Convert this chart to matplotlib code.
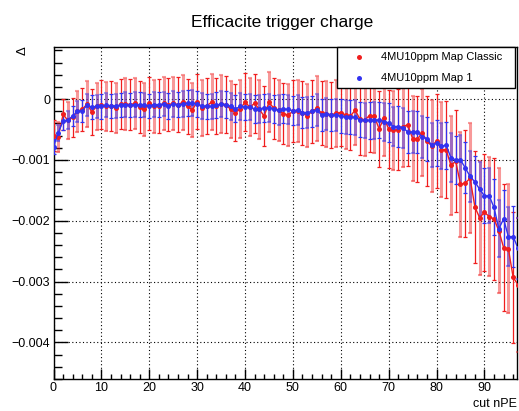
import numpy as np
import matplotlib
matplotlib.use("Agg")
import matplotlib.pyplot as plt
from matplotlib.lines import Line2D
from matplotlib.patches import Rectangle

plt.rcParams["font.family"] = ["Liberation Sans", "DejaVu Sans"]

# cut values (nPE)
cut = np.arange(0, 98)

# values, in units of 1e-4
classic = [-6.0, -6.2, -2.5, -3.5, -3.0, -2.0, -1.7, -0.8, -2.1, -1.2,
           -0.9, -1.2, -1.2, -1.4, -0.8, -0.8, -0.9, -0.7, -1.3, -1.7,
           -0.7, -1.2, -1.1, -0.7, -0.9, -0.7, -0.9, -0.5, -1.2, -1.8,
           -0.4, -1.5, -1.1, -0.5, -1.1, -0.8, -0.9, -1.7, -2.2, -1.6,
           -0.5, -1.3, -0.7, -1.7, -2.8, -0.5, -1.5, -1.8, -2.4, -2.6,
           -2.0, -1.9, -2.3, -2.7, -2.0, -1.5, -2.3, -2.4, -2.6, -2.3,
           -2.2, -2.6, -2.8, -1.8, -3.3, -3.4, -2.7, -2.8, -4.9, -3.1,
           -4.9, -5.1, -5.0, -4.5, -4.2, -6.5, -6.6, -5.5, -6.9, -7.7,
           -6.9, -8.3, -8.3, -10.9, -10.2, -14.0, -13.8, -13.0, -17.7, -19.5,
           -18.6, -19.3, -19.7, -21.6, -24.4, -24.6, -29.3, -30.5]
classic_err = [2.5, 2.5, 2.6, 3.0, 3.2, 3.4, 3.5, 3.7, 3.8, 3.9,
               4.0, 4.0, 4.1, 4.1, 4.1, 4.2, 4.2, 4.2, 4.3, 4.3,
               4.3, 4.3, 4.4, 4.4, 4.4, 4.4, 4.5, 4.5, 4.5, 4.5,
               4.5, 4.6, 4.6, 4.6, 4.6, 4.7, 4.7, 4.7, 4.7, 4.8,
               4.8, 4.8, 4.8, 4.9, 4.9, 4.9, 5.0, 5.0, 5.0, 5.1,
               5.1, 5.1, 5.2, 5.2, 5.2, 5.3, 5.3, 5.4, 5.4, 5.5,
               5.5, 5.6, 5.6, 5.7, 5.8, 5.9, 6.0, 6.1, 6.2, 6.3,
               6.4, 6.5, 6.6, 6.7, 6.8, 7.0, 7.1, 7.2, 7.4, 7.5,
               7.7, 7.8, 8.0, 8.2, 8.4, 8.6, 8.8, 9.0, 9.2, 9.4,
               9.6, 9.8, 10.0, 10.2, 10.4, 10.6, 10.8, 11.0]

map1 = [-7.8, -5.5, -3.6, -3.4, -2.8, -2.0, -1.9, -1.0, -1.3, -1.2,
        -1.2, -1.0, -1.1, -1.1, -1.0, -0.9, -1.0, -0.9, -0.9, -1.0,
        -1.1, -0.9, -0.9, -0.8, -1.1, -0.8, -0.9, -0.8, -0.65, -0.65,
        -0.8, -1.1, -1.2, -1.2, -1.0, -0.8, -0.9, -1.2, -1.6, -1.2,
        -1.3, -1.3, -1.6, -1.6, -1.5, -1.4, -1.6, -1.8, -1.6, -1.7,
        -1.9, -1.8, -2.2, -2.2, -2.0, -1.8, -2.6, -2.4, -2.6, -2.6,
        -2.8, -2.9, -2.9, -3.0, -3.4, -3.5, -3.5, -3.5, -3.4, -3.7,
        -3.9, -4.5, -4.5, -4.7, -5.4, -5.4, -5.4, -6.2, -6.5, -7.6,
        -7.2, -7.7, -7.6, -9.6, -10.0, -10.0, -11.3, -12.7, -13.6, -14.8,
        -15.9, -15.9, -17.8, -21.3, -19.7, -22.6, -22.6, -24.5]
map1_err = [1.2, 1.3, 1.4, 1.5, 1.6, 1.7, 1.8, 1.8, 1.9, 1.9,
            2.0, 2.0, 2.0, 2.0, 2.0, 2.0, 2.0, 2.0, 2.0, 2.0,
            2.0, 2.0, 2.0, 2.0, 2.1, 2.1, 2.1, 2.1, 2.1, 2.1,
            2.1, 2.1, 2.1, 2.1, 2.1, 2.2, 2.2, 2.2, 2.2, 2.2,
            2.2, 2.2, 2.3, 2.3, 2.3, 2.3, 2.3, 2.4, 2.4, 2.4,
            2.4, 2.5, 2.5, 2.5, 2.5, 2.6, 2.6, 2.6, 2.7, 2.7,
            2.8, 2.8, 2.8, 2.9, 2.9, 2.9, 3.0, 3.0, 3.0, 3.1,
            3.2, 3.2, 3.3, 3.3, 3.4, 3.4, 3.5, 3.5, 3.6, 3.6,
            3.8, 3.8, 3.9, 4.0, 4.0, 4.1, 4.2, 4.2, 4.3, 4.4,
            4.5, 4.5, 4.6, 4.7, 4.8, 4.9, 5.0, 5.0]

yticks = [-0.004, -0.003, -0.002, -0.001, 0]
ytick_labels = ["\u22120.004", "\u22120.003", "\u22120.002", "\u22120.001", "0"]
xticks = [0, 10, 20, 30, 40, 50, 60, 70, 80, 90]

series = [
    ("4MU10ppm Map Classic", np.array(classic) * 1e-4, np.array(classic_err) * 1e-4, "#f01e1e"),
    ("4MU10ppm Map 1", np.array(map1) * 1e-4, np.array(map1_err) * 1e-4, "#3232f0"),
]

W, H = 519, 411
fig = plt.figure(figsize=(W / 100, H / 100), dpi=100)
ax = fig.add_axes([53.5 / W, 1 - 379 / H, (517 - 53.5) / W, (379 - 47) / H])

for label, y, err, col in series:
    # ROOT-like look: alternate thin dark bars and soft wide bars
    ax.errorbar(cut[::2], y[::2], yerr=err[::2], fmt="none", ecolor=col,
                elinewidth=0.9, capsize=1.6, capthick=0.9, zorder=3)
    ax.errorbar(cut[1::2], y[1::2], yerr=err[1::2], fmt="none", ecolor=col,
                elinewidth=2.2, capsize=1.6, capthick=1.5, alpha=0.45, zorder=3)
    ax.plot(cut, y, color=col, lw=1.0, marker="o", ms=3.6, mew=0, zorder=4)

ax.set_xlim(0, 96.8)
ax.set_ylim(-0.004585, 0.000857)

ax.set_xticks(xticks)
ax.set_xticks(np.arange(0, 97, 2), minor=True)
ax.set_yticks(yticks)
ax.set_yticklabels(ytick_labels)
ax.set_yticks(np.arange(-0.0046, 0.0009, 0.0002), minor=True)

ax.tick_params(axis="both", which="both", direction="in", width=1.0,
               labelsize=9, top=False, right=False)
ax.tick_params(axis="y", which="major", length=10, pad=2.5)
ax.tick_params(axis="y", which="minor", length=5.5)
ax.tick_params(axis="x", which="major", length=7, pad=2)
ax.tick_params(axis="x", which="minor", length=3.6)

ax.grid(True, which="major", color="black", linestyle=(0, (1, 2.2)), lw=0.8)
for s in ax.spines.values():
    s.set_linewidth(1.0)
    s.set_color("black")

fig.text(282 / W, 1 - 26.7 / H, "Efficacite trigger charge", ha="center",
         va="baseline", fontsize=12.5)
fig.text(23 / W, 1 - 51 / H, "\u0394", rotation=90, ha="center", va="center",
         fontsize=9.5)
fig.text(517 / W, 1 - 404 / H, "cut nPE", ha="right", va="center", fontsize=9)

# legend box
fig.add_artist(Rectangle((337 / W, 1 - 88 / H), (515 - 337) / W, (88 - 47) / H,
                         transform=fig.transFigure, facecolor="white",
                         edgecolor="black", lw=1.0, zorder=5))
for (label, y, err, col), ypx in zip(series, [57.3, 78.3]):
    fig.add_artist(Line2D([359 / W], [1 - ypx / H], transform=fig.transFigure,
                          marker="o", ms=3.6, mew=0, color=col, zorder=6))
    fig.text(381 / W, 1 - ypx / H, label, ha="left", va="center", fontsize=8,
             zorder=6)

fig.savefig("out.png", dpi=100)
